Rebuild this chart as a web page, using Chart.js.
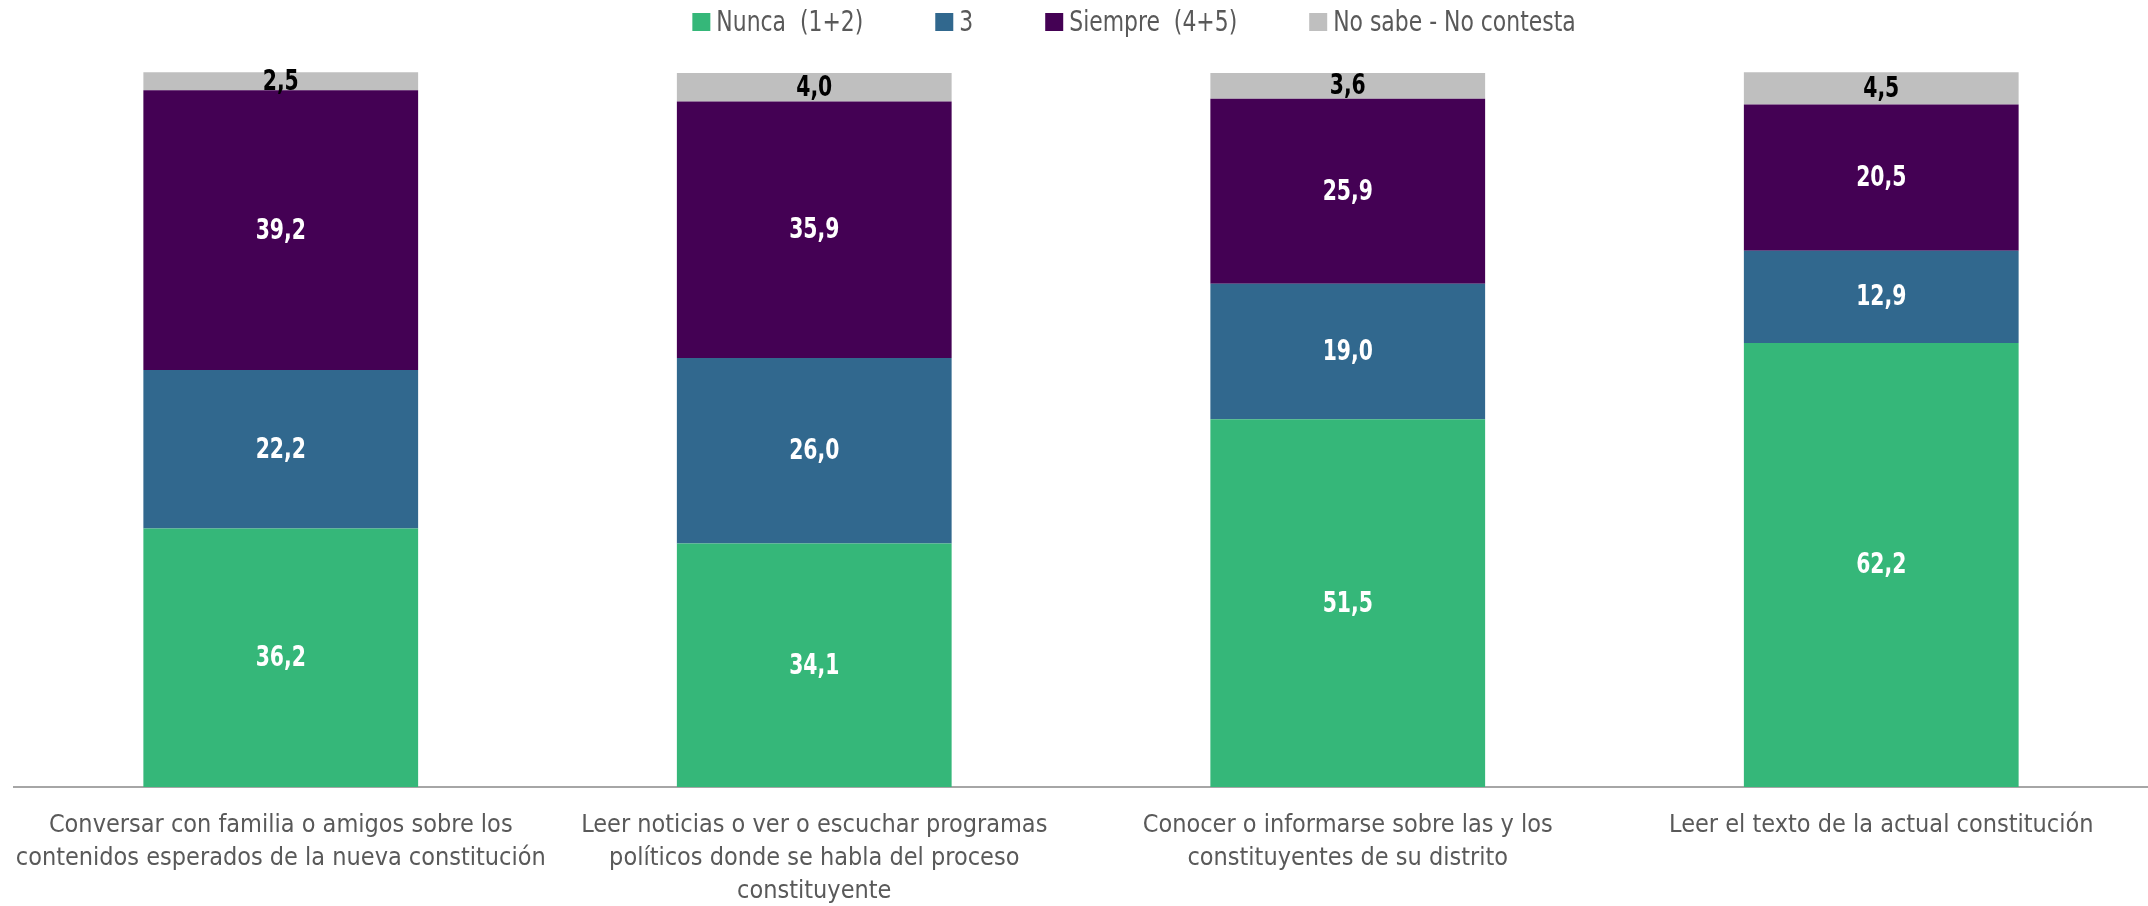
<!DOCTYPE html>
<html>
<head>
<meta charset="utf-8">
<script src="https://cdn.jsdelivr.net/npm/chart.js@4.4.0/dist/chart.umd.min.js"></script>
<style>
  html, body { margin: 0; padding: 0; background: #fff; }
  #wrap { width: 2148px; height: 906px; }
</style>
</head>
<body>
<div id="wrap"><canvas id="myChart" width="2148" height="906"></canvas></div>
<script>
// categories (multi-line labels)
const categories = [
    ['Conversar con familia o amigos sobre los', 'contenidos esperados de la nueva constitución'],
    ['Leer noticias o ver o escuchar programas', 'políticos donde se habla del proceso', 'constituyente'],
    ['Conocer o informarse sobre las y los', 'constituyentes de su distrito'],
    ['Leer el texto de la actual constitución']
];

// series values (%)
const nunca = [36.2, 34.1, 51.5, 62.2];
const tres = [22.2, 26.0, 19.0, 12.9];
const siempre = [39.2, 35.9, 25.9, 20.5];
const noSabe = [2.5, 4.0, 3.6, 4.5];

const seriesNames = ['Nunca  (1+2)', '3', 'Siempre  (4+5)', 'No sabe - No contesta'];
const seriesColors = ['#35B779', '#31688E', '#440154', '#BFBFBF'];
const labelColors = ['#FFFFFF', '#FFFFFF', '#FFFFFF', '#000000'];

const FONT = '"Liberation Sans Narrow", "Arial Narrow", "DejaVu Sans Condensed", sans-serif';
const TEXT_GRAY = '#595959';

function fmt(v) {
    return v.toFixed(1).replace('.', ',');
}

// value labels in the middle of each segment (squeezed a bit, like the original)
const barLabels = {
    id: 'barLabels',
    afterDatasetsDraw(chart) {
        const ctx = chart.ctx;
        const sx = 0.78;
        ctx.save();
        ctx.font = 'bold 29px ' + FONT;
        ctx.textAlign = 'center';
        ctx.textBaseline = 'middle';
        chart.data.datasets.forEach((ds, i) => {
            const meta = chart.getDatasetMeta(i);
            ctx.fillStyle = labelColors[i];
            meta.data.forEach((bar, j) => {
                const yMid = (bar.y + bar.base) / 2;
                ctx.save();
                ctx.translate(bar.x, yMid);
                ctx.scale(sx, 1);
                ctx.fillText(fmt(ds.data[j]), 0, 1);
                ctx.restore();
            });
        });
        ctx.restore();
    }
};

// legend drawn by hand so the gap between items can be wide
const topLegend = {
    id: 'topLegend',
    afterDraw(chart) {
        const ctx = chart.ctx;
        const box = 18, gapText = 6, gapItem = 72, sx = 0.84;
        ctx.save();
        ctx.font = '29px ' + FONT;
        ctx.textBaseline = 'middle';
        const widths = seriesNames.map(n => ctx.measureText(n).width * sx);
        let total = 0;
        widths.forEach((w, i) => {
            total += box + gapText + w + (i < widths.length - 1 ? gapItem : 0);
        });
        let x = chart.width / 2 + 60 - total / 2;
        const y = 22;
        seriesNames.forEach((n, i) => {
            ctx.fillStyle = seriesColors[i];
            ctx.fillRect(x, y - box / 2, box, box);
            ctx.fillStyle = TEXT_GRAY;
            ctx.save();
            ctx.translate(x + box + gapText, y + 1);
            ctx.scale(sx, 1);
            ctx.fillText(n, 0, 0);
            ctx.restore();
            x += box + gapText + widths[i] + gapItem;
        });
        ctx.restore();
    }
};

const config = {
    type: 'bar',
    data: {
        labels: categories,
        datasets: [
            { label: seriesNames[0], data: nunca, backgroundColor: seriesColors[0] },
            { label: seriesNames[1], data: tres, backgroundColor: seriesColors[1] },
            { label: seriesNames[2], data: siempre, backgroundColor: seriesColors[2] },
            { label: seriesNames[3], data: noSabe, backgroundColor: seriesColors[3] }
        ]
    },
    options: {
        responsive: false,
        animation: false,
        layout: { autoPadding: false, padding: { top: 73, left: 14, right: 0, bottom: -24 } },
        datasets: {
            bar: { barPercentage: 1, categoryPercentage: 0.515, clip: false }
        },
        plugins: {
            legend: { display: false },
            tooltip: { enabled: false }
        },
        scales: {
            x: {
                stacked: true,
                grid: { display: false, drawTicks: false },
                border: { display: true, color: '#A6A6A6', width: 2 },
                ticks: {
                    color: TEXT_GRAY,
                    font: { family: FONT, size: 25, lineHeight: 1.32 },
                    padding: 22,
                    maxRotation: 0,
                    autoSkip: false
                },
                // labels may hang a little past the plot edges, as in the original
                afterFit(scale) {
                    scale.paddingLeft = 0;
                    scale.paddingRight = 0;
                }
            },
            y: {
                stacked: true,
                display: false,
                min: 0,
                max: 100
            }
        }
    },
    plugins: [barLabels, topLegend]
};

const ctx = document.getElementById('myChart').getContext('2d');
const myChart = new Chart(ctx, config);
</script>
</body>
</html>
